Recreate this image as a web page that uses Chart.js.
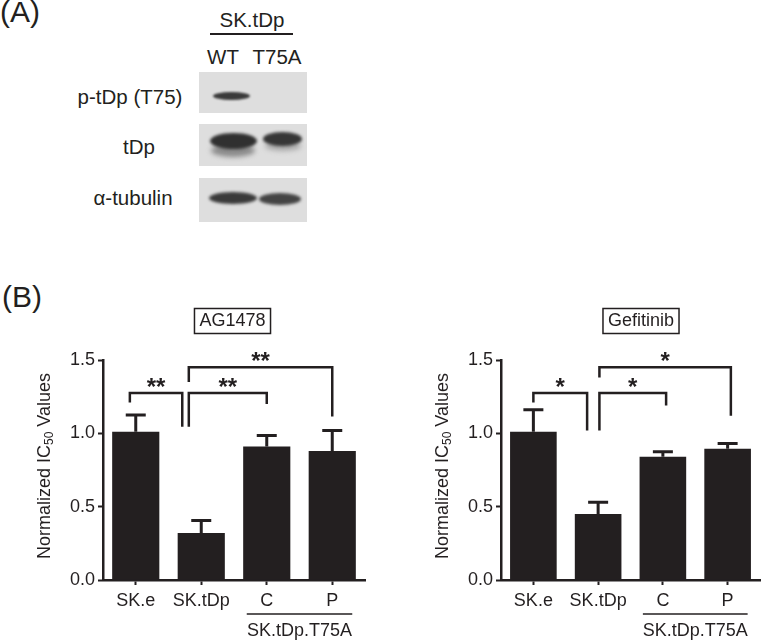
<!DOCTYPE html>
<html>
<head>
<meta charset="utf-8">
<script src="https://cdn.jsdelivr.net/npm/chart.js@4.4.1/dist/chart.umd.min.js"></script>
<style>
body { margin: 0; background: #fff; }
#page { position: relative; width: 766px; height: 642px; overflow: hidden; font-family: "Liberation Sans", Arial, sans-serif; color: #231f20; }
.txt { position: absolute; transform: translate(-50%, -50%); white-space: nowrap; font-size: 20.5px; }
.panel { position: absolute; font-size: 30px; }
.blot { position: absolute; left: 199px; width: 108px; background: #dedede; }
.band { position: absolute; border-radius: 50%; }
.chartBox { position: absolute; top: 290px; width: 383px; height: 352px; }
</style>
</head>
<body>
<div id="page">
  <!-- panel A: blot -->
  <div class="panel" style="left:0;top:-5px">(A)</div>
  <div class="txt" style="left:252px;top:20px">SK.tDp</div>
  <div style="position:absolute;left:210px;top:33px;width:83px;height:1.5px;background:#231f20"></div>
  <div class="txt" style="left:223px;top:57px">WT</div>
  <div class="txt" style="left:277px;top:57px">T75A</div>

  <div class="txt" style="left:130px;top:97px">p-tDp (T75)</div>
  <div class="txt" style="left:139px;top:147px">tDp</div>
  <div class="txt" style="left:133px;top:198px">α-tubulin</div>

  <div class="blot" style="top:72px;height:41px">
    <div class="band" style="left:14px;top:20px;width:37px;height:8px;background:#3a3a3a;filter:blur(1.2px)"></div>
  </div>
  <div class="blot" style="top:124px;height:42px">
    <div class="band" style="left:12px;top:20px;width:44px;height:13px;background:#8a8a8a;filter:blur(2.5px)"></div>
    <div class="band" style="left:11px;top:9px;width:47px;height:16px;background:#303030;filter:blur(1.5px)"></div>
    <div class="band" style="left:66px;top:17px;width:36px;height:10px;background:#a8a8a8;filter:blur(2.5px)"></div>
    <div class="band" style="left:64px;top:8px;width:39px;height:14px;background:#363636;filter:blur(1.5px)"></div>
  </div>
  <div class="blot" style="top:178px;height:44px">
    <div class="band" style="left:10px;top:14px;width:48px;height:12px;background:#3a3a3a;filter:blur(1.4px)"></div>
    <div class="band" style="left:60px;top:15px;width:42px;height:12px;background:#444;filter:blur(1.4px)"></div>
  </div>

  <!-- panel B: charts -->
  <div class="panel" style="left:2px;top:280px">(B)</div>
  <div class="chartBox" style="left:0"><canvas id="chartAG"></canvas></div>
  <div class="chartBox" style="left:383px"><canvas id="chartGef"></canvas></div>
</div>

<script>
const categories = ["SK.e", "SK.tDp", "C", "P"];
const groupLabel = "SK.tDp.T75A";
const yTicks = [0, 0.5, 1.0, 1.5];

const ag1478Values = [1.01, 0.32, 0.91, 0.88];
const ag1478Errors = [0.115, 0.085, 0.075, 0.14];
// bracket ends are category positions, heights are y values
const ag1478Brackets = [
    { from: -0.09, to: 0.71, fromY: 1.21, toY: 1.045, top: 1.275, stars: "**" },
    { from: 0.81, to: 2.0, fromY: 1.045, toY: 1.2, top: 1.275, stars: "**" },
    { from: 0.81, to: 3.0, fromY: 1.35, toY: 1.115, top: 1.45, stars: "**" }
];

const gefitinibValues = [1.01, 0.45, 0.84, 0.895];
const gefitinibErrors = [0.15, 0.08, 0.035, 0.035];
const gefitinibBrackets = [
    { from: 0.0, to: 0.83, fromY: 1.21, toY: 1.02, top: 1.275, stars: "*" },
    { from: 1.02, to: 2.05, fromY: 1.02, toY: 1.19, top: 1.275, stars: "*" },
    { from: 1.02, to: 3.05, fromY: 1.38, toY: 1.12, top: 1.45, stars: "*" }
];

const ink = "#231f20";
const fontFamily = "'Liberation Sans', Arial, sans-serif";

// error bars, brackets, boxed title, group label and y title
const annotations = {
    id: "annotations",
    afterDatasetsDraw(chart, args, opts) {
        const ctx = chart.ctx;
        const xs = chart.scales.x, ys = chart.scales.y;
        const area = chart.chartArea;
        const meta = chart.getDatasetMeta(0);
        const p0 = xs.getPixelForValue(0), p1 = xs.getPixelForValue(1);
        const catX = f => p0 + f * (p1 - p0);

        ctx.save();
        ctx.strokeStyle = ink;
        ctx.fillStyle = ink;

        // error bars
        ctx.lineWidth = 3;
        meta.data.forEach((bar, i) => {
            const top = ys.getPixelForValue(opts.values[i] + opts.errors[i]);
            ctx.beginPath();
            ctx.moveTo(bar.x, bar.y);
            ctx.lineTo(bar.x, top);
            ctx.moveTo(bar.x - 10, top);
            ctx.lineTo(bar.x + 10, top);
            ctx.stroke();
        });

        // significance brackets
        ctx.lineWidth = 2.5;
        ctx.textAlign = "center";
        ctx.textBaseline = "alphabetic";
        ctx.font = "bold 24px " + fontFamily;
        opts.brackets.forEach(b => {
            const x1 = catX(b.from), x2 = catX(b.to);
            const yt = ys.getPixelForValue(b.top);
            ctx.beginPath();
            ctx.moveTo(x1, ys.getPixelForValue(b.fromY));
            ctx.lineTo(x1, yt);
            ctx.lineTo(x2, yt);
            ctx.lineTo(x2, ys.getPixelForValue(b.toY));
            ctx.stroke();
            ctx.fillText(b.stars, (x1 + x2) / 2, yt + 2);
        });

        // boxed title
        ctx.font = "18px " + fontFamily;
        ctx.textBaseline = "middle";
        const tx = (area.left + area.right) / 2 + opts.titleShift;
        const ty = 31;
        const tw = ctx.measureText(opts.title).width;
        ctx.fillText(opts.title, tx, ty);
        ctx.lineWidth = 1.5;
        ctx.strokeRect(tx - tw / 2 - 5, ty - 12.5, tw + 10, 25);

        // group label under C and P
        const gy = area.bottom + 34;
        ctx.lineWidth = 1.5;
        ctx.beginPath();
        ctx.moveTo(catX(2) - 20, gy);
        ctx.lineTo(catX(3) + 20, gy);
        ctx.stroke();
        ctx.fillText(groupLabel, (catX(2) + catX(3)) / 2, area.bottom + 51);

        // y axis title with subscript
        ctx.translate(area.left - 58, (area.top + area.bottom) / 2 - 4);
        ctx.rotate(-Math.PI / 2);
        const big = "18px " + fontFamily, small = "12px " + fontFamily;
        ctx.font = big;
        const wa = ctx.measureText("Normalized IC").width;
        const wc = ctx.measureText(" Values").width;
        ctx.font = small;
        const wb = ctx.measureText("50").width;
        let x = -(wa + wb + wc) / 2;
        ctx.textAlign = "left";
        ctx.font = big;
        ctx.fillText("Normalized IC", x, 0);
        ctx.font = small;
        ctx.fillText("50", x + wa, 5);
        ctx.font = big;
        ctx.fillText(" Values", x + wa + wb, 0);
        ctx.restore();
    }
};

function makeChart(canvasId, values, errors, brackets, title, titleShift, axisWidth, rightPad) {
    const ctx = document.getElementById(canvasId).getContext("2d");
    return new Chart(ctx, {
        type: "bar",
        data: {
            labels: categories,
            datasets: [{
                data: values,
                backgroundColor: ink,
                borderWidth: 0,
                categoryPercentage: 1,
                barPercentage: 0.72
            }]
        },
        plugins: [annotations],
        options: {
            responsive: true,
            maintainAspectRatio: false,
            animation: false,
            layout: { padding: { top: 70, right: rightPad, bottom: 0, left: 0 } },
            plugins: {
                legend: { display: false },
                tooltip: { enabled: false },
                annotations: {
                    values: values,
                    errors: errors,
                    brackets: brackets,
                    title: title,
                    titleShift: titleShift
                }
            },
            scales: {
                x: {
                    grid: { drawOnChartArea: false, offset: false, tickLength: 5, tickWidth: 2, tickColor: ink },
                    border: { color: ink, width: 2.5 },
                    ticks: { color: ink, padding: 5, font: { size: 18, family: fontFamily } },
                    afterFit: s => { s.height = 62; }
                },
                y: {
                    min: 0,
                    max: 1.5,
                    afterBuildTicks: s => { s.ticks = yTicks.map(v => ({ value: v })); },
                    grid: { drawOnChartArea: false, tickLength: 5, tickWidth: 2, tickColor: ink },
                    border: { color: ink, width: 2.5 },
                    ticks: {
                        color: ink,
                        padding: 3,
                        font: { size: 18, family: fontFamily },
                        callback: v => v.toFixed(1)
                    },
                    afterFit: s => { s.width = axisWidth; }
                }
            }
        }
    });
}

makeChart("chartAG", ag1478Values, ag1478Errors, ag1478Brackets, "AG1478", -1.5, 103, 18);
makeChart("chartGef", gefitinibValues, gefitinibErrors, gefitinibBrackets, "Gefitinib", 10.5, 118, 6);
</script>
</body>
</html>
